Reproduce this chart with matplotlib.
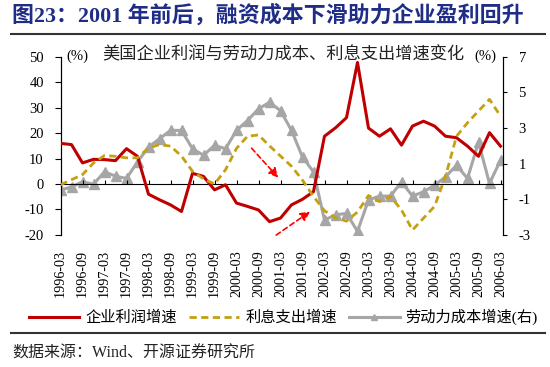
import numpy as np
import matplotlib
matplotlib.use('Agg')
import matplotlib.pyplot as plt
from matplotlib.lines import Line2D

plt.rcParams['font.family'] = ['Liberation Serif', 'Noto Sans CJK SC']
plt.rcParams['axes.unicode_minus'] = False

# quarterly dates 1996-03 ... 2006-03
quarters = [f'{y}-{m:02d}' for y in range(1996, 2007) for m in (3, 6, 9, 12)][:41]

# 企业利润增速 (%, left axis)
profit = [16.0, 15.5, 8.3, 9.7, 9.6, 9.2, 13.9, 10.9, -4.0, -6.2, -8.2, -10.8,
          4.2, 3.0, -2.3, -0.3, -7.5, -8.8, -10.2, -14.8, -13.4, -8.2, -6.0, -3.0,
          18.8, 22.1, 26.1, 47.8, 22.0, 18.8, 21.7, 15.3, 22.8, 24.7, 22.8, 18.8,
          18.2, 14.9, 10.9, 20.2, 14.9]
# 利息支出增速 (%, left axis)
interest = [-0.3, 1.7, 3.7, 8.3, 11.2, 10.9, 10.3, 10.3, 14.2, 15.5, 14.9, 11.0,
            5.0, 2.0, 0.0, 5.6, 14.0, 18.8, 19.3, 15.0, 11.0, 7.0, 1.5, -4.9,
            -10.5, -13.3, -14.6, -11.0, -4.5, -6.9, -4.9, -10.2, -18.1, -13.4, -8.8, 3.0,
            18.8, 24.1, 28.7, 33.3, 26.7]
# 劳动力成本增速 (%, right axis)
labor = [-0.49, -0.30, -0.02, -0.15, 0.54, 0.30, 0.17, 1.10, 1.93, 2.40, 2.87, 2.87,
         1.84, 1.47, 2.03, 1.84, 2.87, 3.42, 4.08, 4.45, 3.98, 2.87, 1.37, 0.54,
         -2.16, -1.88, -1.79, -2.80, -1.04, -0.82, -0.82, -0.02, -0.82, -0.58, -0.21, 0.26,
         0.91, 0.17, 2.21, -0.11, 1.19]

x = np.arange(len(quarters))
red, gold, gray = '#C00000', '#C4A012', '#A6A6A6'

fig = plt.figure(figsize=(5.5, 3.67), dpi=100)
ax = fig.add_axes([0.110, 0.360, 0.805, 0.485])
ax2 = ax.twinx()

ax.plot(x, profit, color=red, lw=2.2, zorder=3)
ax.plot(x, interest, color=gold, lw=2.0, dashes=(2.6, 1.6), zorder=3)
ax2.plot(x, labor, color=gray, lw=2.2, marker='^', markersize=6.5, zorder=2)

ax.set_xlim(0, 40.25)
ax.set_ylim(-20, 50)
ax2.set_ylim(-3, 7)
ax.set_yticks(range(-20, 51, 10))
ax2.set_yticks(range(-3, 8, 2))
ax.set_xticks(x[::2])
ax.set_xticklabels(quarters[::2], rotation=90)
ax.tick_params(axis='x', length=0, pad=11, labelsize=10.2)
ax.tick_params(axis='y', direction='out', length=4, pad=8, labelsize=10.5)
ax2.tick_params(axis='y', direction='out', length=3, pad=8, labelsize=10.5)

for a in (ax, ax2):
    a.spines['top'].set_visible(False)
    a.spines['bottom'].set_visible(False)
    a.patch.set_visible(False)
ax.set_zorder(ax2.get_zorder() + 1)

# zero line with small tick marks
zax = ax.secondary_xaxis(20 / 70)
zax.set_xticks(x[::2])
zax.set_xticklabels([])
zax.tick_params(direction='in', length=3, width=0.8)
zax.spines['bottom'].set_linewidth(0.8)

# arrows
arrow = dict(arrowstyle='-|>', color='#FF0000', lw=1.2, ls=(0, (3, 2)), mutation_scale=14)
ax.annotate('', xy=(19.97, 1.7), xytext=(17.2, 14.9), arrowprops=arrow, annotation_clip=False)
ax.annotate('', xy=(22.9, -10.2), xytext=(19.4, -20.7), arrowprops=arrow, annotation_clip=False)

ax.text(0.503, 1.01, '美国企业利润与劳动力成本、利息支出增速变化', transform=ax.transAxes,
        ha='center', va='center', fontsize=12.4, color='#222222')
ax.text(0.014, 1.006, '(%)', transform=ax.transAxes, ha='left', va='center', fontsize=10.5)
ax.text(0.985, 1.006, '(%)', transform=ax.transAxes, ha='right', va='center', fontsize=10.5)

handles = [Line2D([], [], color=red, lw=2.2),
           Line2D([], [], color=gold, lw=2.0, dashes=(2.6, 1.6)),
           Line2D([], [], color=gray, lw=2.2, marker='^', markersize=5)]
fig.legend(handles, ['企业利润增速', '利息支出增速', '劳动力成本增速(右)'], loc='center',
           bbox_to_anchor=(0.515, 0.136), ncol=3, frameon=False, fontsize=11,
           handlelength=3.3, columnspacing=0.8, handletextpad=0.4)

fig.text(0.022, 0.958, '图23：2001 年前后，融资成本下滑助力企业盈利回升', fontsize=15.8,
         fontweight='bold', color='#1F2D86', va='center')
fig.add_artist(Line2D([0.02, 0.99], [0.907, 0.907], color='#333333', lw=1.5))
fig.add_artist(Line2D([0.02, 0.99], [0.093, 0.093], color='#333333', lw=1.5))
fig.text(0.022, 0.038, '数据来源：Wind、开源证券研究所', fontsize=11.5, va='center', color='#222222')

fig.savefig('out.png', dpi=100)
